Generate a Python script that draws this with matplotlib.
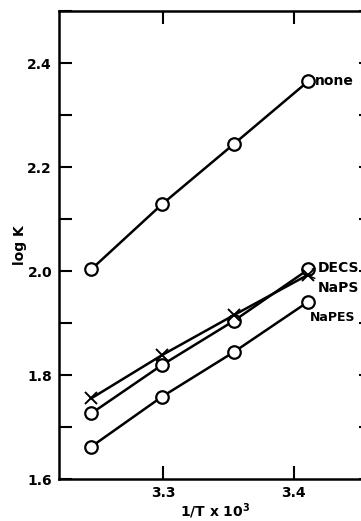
import matplotlib
matplotlib.use("Agg")
import matplotlib.pyplot as plt
from matplotlib.ticker import MultipleLocator, FixedLocator

inv_T = [3.245, 3.299, 3.354, 3.411]
none_vals = [2.003, 2.128, 2.244, 2.365]
decs_vals = [1.726, 1.819, 1.904, 2.003]
naps_vals = [1.755, 1.838, 1.915, 1.993]
napes_vals = [1.662, 1.758, 1.844, 1.941]

x_ticks = [3.3, 3.4]
y_ticks = [1.6, 1.8, 2.0, 2.2, 2.4]

plt.rcParams['font.family'] = ['DejaVu Sans']
plt.rcParams['font.weight'] = 'bold'

fig = plt.figure(figsize=(3.61, 5.21), dpi=100)
ax = fig.add_axes([59/361, 42/521, (372-59)/361, (479-11)/521])
ax.set_xlim(3.2204, 3.4597)
ax.set_ylim(1.6, 2.5)

lw = 1.8
circ = dict(marker='o', markersize=9, markerfacecolor='white', markeredgecolor='black', markeredgewidth=1.6)
ax.plot(inv_T, none_vals, color='black', lw=lw, **circ)
ax.plot(inv_T, decs_vals, color='black', lw=lw, **circ, zorder=3)
ax.plot(inv_T, napes_vals, color='black', lw=lw, **circ)
ax.plot(inv_T, naps_vals, color='black', lw=lw, marker='x', markersize=8, markeredgewidth=1.4, zorder=4)

fs = 10
ax.text(inv_T[-1] + 0.005, none_vals[-1], 'none', fontsize=fs, fontweight='bold', va='center', ha='left')
ax.annotate('DECS', xy=(inv_T[-1] + 0.003, decs_vals[-1] + 0.001), xytext=(inv_T[-1] + 0.007, decs_vals[-1] + 0.003),
            fontsize=fs, fontweight='bold', va='center', ha='left',
            arrowprops=dict(arrowstyle='-', lw=1.0, color='black', shrinkA=0, shrinkB=0))
ax.annotate('NaPS', xy=(inv_T[-1] + 0.002, naps_vals[-1] - 0.004), xytext=(inv_T[-1] + 0.007, naps_vals[-1] - 0.026),
            fontsize=fs, fontweight='bold', va='center', ha='left',
            arrowprops=dict(arrowstyle='-', lw=1.0, color='black', shrinkA=0, shrinkB=0))
ax.text(inv_T[-1] + 0.0015, napes_vals[-1] - 0.030, 'NaPES', fontsize=9, fontweight='bold', va='center', ha='left')

ax.xaxis.set_major_locator(FixedLocator(x_ticks))
ax.set_xticklabels([f'{v:.1f}' for v in x_ticks])
ax.yaxis.set_major_locator(FixedLocator(y_ticks))
ax.set_yticklabels([f'{v:.1f}' for v in y_ticks])
ax.yaxis.set_minor_locator(MultipleLocator(0.1))

ax.tick_params(which='both', direction='in', length=9.5, width=1.5, top=True, right=True,
               labelsize=10, pad=5)
for lbl in ax.get_xticklabels() + ax.get_yticklabels():
    lbl.set_fontweight('bold')
for s in ax.spines.values():
    s.set_linewidth(1.8)

ax.set_ylabel('log K', fontsize=10, fontweight='bold', labelpad=0)
ax.set_xlabel(r'1/T x 10$^3$', fontsize=10, fontweight='bold', labelpad=1)

fig.savefig('out.png', dpi=100)
